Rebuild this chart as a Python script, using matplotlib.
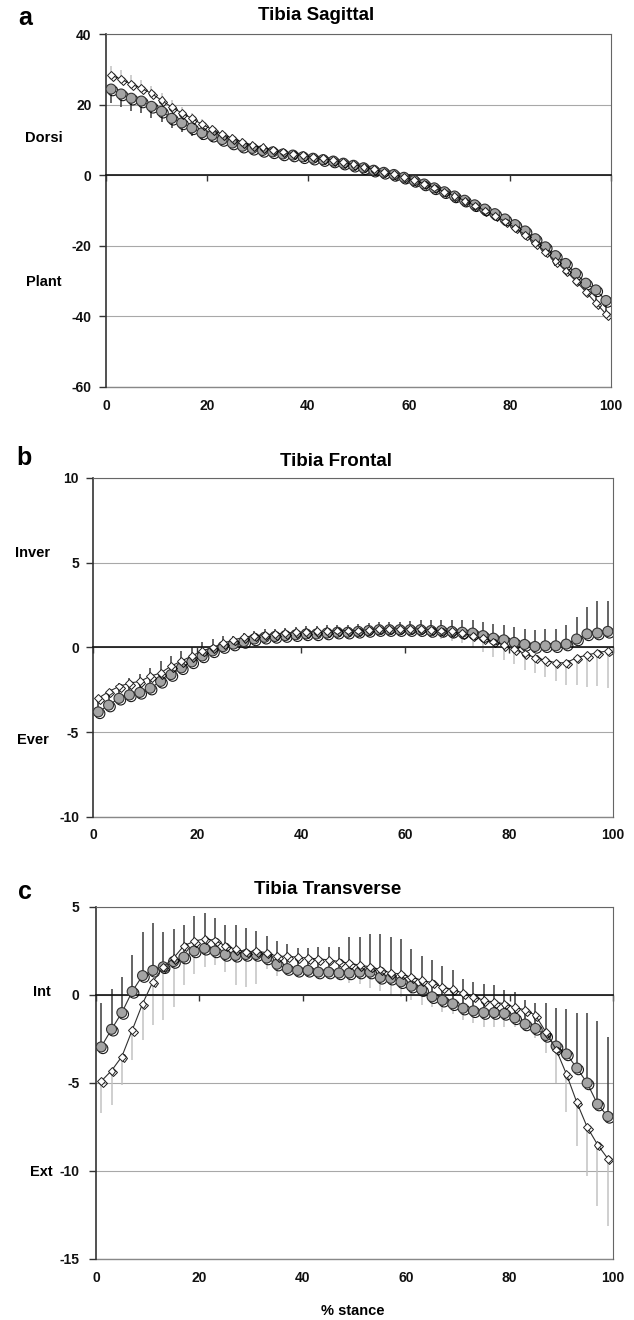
import numpy as np
import matplotlib
matplotlib.use('Agg')
import matplotlib.pyplot as plt
import matplotlib.patheffects as pe

plt.rcParams['font.family'] = ['Liberation Sans', 'DejaVu Sans']
plt.rcParams['font.weight'] = 'bold'
plt.rcParams['axes.unicode_minus'] = False

W, H = 634, 1320

# % stance, one sample every 2 %
stance = np.arange(1, 100, 2)

# --- a: tibia sagittal --- #
sag_circ = [24.4, 23.0, 21.8, 21.0, 19.5, 18.1, 16.1, 14.8, 13.4, 12.0,
            11.3, 10.1, 9.1, 8.2, 7.6, 7.0, 6.6, 6.0, 5.7, 5.2,
            4.8, 4.4, 4.0, 3.4, 2.8, 2.1, 1.4, 0.8, 0.2, -0.6,
            -1.5, -2.5, -3.6, -4.7, -5.9, -7.1, -8.4, -9.6, -10.9, -12.4,
            -14.0, -15.8, -18.0, -20.3, -22.8, -25.0, -27.8, -30.6, -32.5, -35.5]
sag_circ_sd = [4.0, 3.8, 3.6, 3.4, 3.2, 3.0, 2.8, 2.6, 2.3, 2.0,
               1.8, 1.6, 1.4, 1.3, 1.2, 1.1, 1.0, 1.0, 0.9, 0.9,
               0.9, 0.9, 0.9, 0.9, 0.9, 0.9, 0.9, 0.9, 0.9, 1.0,
               1.0, 1.0, 1.1, 1.1, 1.2, 1.3, 1.4, 1.5, 1.6, 1.8,
               2.0, 2.2, 2.4, 2.6, 2.8, 3.0, 3.2, 3.4, 3.6, 3.8]
sag_diam = [28.3, 27.2, 25.8, 24.6, 23.2, 21.2, 19.3, 17.6, 16.1, 14.4,
            13.0, 11.6, 10.5, 9.4, 8.5, 7.9, 7.2, 6.7, 6.1, 5.7,
            5.2, 4.8, 4.3, 3.7, 3.1, 2.4, 1.7, 1.0, 0.3, -0.5,
            -1.4, -2.4, -3.5, -4.7, -5.9, -7.2, -8.6, -10.0, -11.5, -13.1,
            -14.9, -16.9, -19.2, -21.7, -24.3, -27.0, -29.9, -33.0, -36.2, -39.3]
sag_diam_sd = [2.5, 2.6, 2.5, 2.3, 2.2, 2.1, 2.0, 1.8, 1.6, 1.5,
               1.3, 1.2, 1.1, 1.0, 1.0, 0.9, 0.9, 0.8, 0.8, 0.8,
               0.8, 0.8, 0.8, 0.8, 0.8, 0.8, 0.8, 0.8, 0.8, 0.8,
               0.8, 0.8, 0.8, 0.8, 0.8, 0.9, 0.9, 0.9, 1.0, 1.0,
               1.0, 1.1, 1.1, 1.2, 1.2, 1.3, 1.3, 1.4, 1.4, 1.5]

# --- b: tibia frontal --- #
fro_circ = [-3.8, -3.4, -3.0, -2.8, -2.65, -2.4, -2.0, -1.6, -1.2, -0.85,
            -0.5, -0.2, 0.05, 0.2, 0.35, 0.5, 0.6, 0.65, 0.7, 0.75,
            0.8, 0.8, 0.85, 0.9, 0.9, 0.95, 1.0, 1.05, 1.05, 1.05,
            1.05, 1.05, 1.0, 1.0, 0.95, 0.9, 0.85, 0.7, 0.55, 0.45,
            0.3, 0.18, 0.06, 0.1, 0.1, 0.2, 0.5, 0.8, 0.85, 0.95]
fro_circ_sd = [0.6, 0.7, 0.9, 1.0, 1.1, 1.2, 1.2, 1.1, 1.0, 0.9,
               0.8, 0.7, 0.6, 0.5, 0.5, 0.5, 0.5, 0.45, 0.45, 0.45,
               0.45, 0.45, 0.45, 0.45, 0.45, 0.45, 0.45, 0.45, 0.45, 0.45,
               0.5, 0.55, 0.6, 0.65, 0.7, 0.75, 0.8, 0.8, 0.85, 0.85,
               0.9, 0.9, 0.95, 1.0, 1.0, 1.1, 1.3, 1.6, 1.9, 1.8]
fro_diam = [-3.0, -2.6, -2.3, -2.1, -2.0, -1.7, -1.5, -1.1, -0.8, -0.5,
            -0.2, 0.0, 0.25, 0.45, 0.6, 0.7, 0.75, 0.8, 0.85, 0.9,
            0.9, 0.95, 0.95, 1.0, 1.0, 1.0, 1.05, 1.1, 1.1, 1.1,
            1.1, 1.1, 1.05, 1.0, 0.95, 0.85, 0.7, 0.55, 0.35, 0.15,
            -0.1, -0.35, -0.6, -0.75, -0.9, -0.9, -0.6, -0.45, -0.3, -0.2]
fro_diam_sd = [0.5, 0.5, 0.5, 0.5, 0.5, 0.5, 0.5, 0.5, 0.5, 0.5,
               0.5, 0.5, 0.5, 0.5, 0.45, 0.45, 0.45, 0.45, 0.45, 0.45,
               0.45, 0.45, 0.45, 0.45, 0.45, 0.45, 0.45, 0.45, 0.45, 0.45,
               0.45, 0.5, 0.5, 0.5, 0.55, 0.6, 0.7, 0.8, 0.9, 0.9,
               0.9, 1.0, 0.9, 1.0, 1.1, 1.3, 1.6, 1.9, 2.0, 2.2]

# --- c: tibia transverse --- #
tra_circ = [-2.95, -1.95, -1.0, 0.2, 1.1, 1.4, 1.6, 1.9, 2.15, 2.5,
            2.65, 2.5, 2.3, 2.25, 2.3, 2.3, 2.1, 1.75, 1.5, 1.4,
            1.4, 1.3, 1.3, 1.25, 1.25, 1.3, 1.3, 1.0, 0.95, 0.75,
            0.5, 0.3, -0.1, -0.3, -0.5, -0.75, -0.9, -1.0, -1.0, -1.05,
            -1.3, -1.65, -1.9, -2.3, -2.9, -3.35, -4.15, -5.0, -6.2, -6.9]
tra_circ_sd = [2.5, 2.3, 2.0, 2.1, 2.5, 2.7, 2.0, 1.85, 1.85, 2.0,
               2.0, 1.9, 1.7, 1.75, 1.5, 1.35, 1.25, 1.3, 1.4, 1.25,
               1.25, 1.4, 1.4, 1.5, 2.05, 2.0, 2.15, 2.45, 2.35, 2.45,
               2.1, 1.9, 2.1, 1.95, 1.9, 1.65, 1.65, 1.6, 1.55, 1.35,
               1.47, 1.35, 1.45, 1.85, 2.15, 2.55, 3.15, 4.0, 4.7, 4.5]
tra_diam = [-4.9, -4.3, -3.5, -2.0, -0.5, 0.75, 1.6, 2.1, 2.8, 3.05,
            3.2, 3.1, 2.8, 2.6, 2.45, 2.5, 2.4, 2.2, 2.2, 2.15,
            2.1, 2.05, 2.0, 1.9, 1.8, 1.7, 1.6, 1.45, 1.25, 1.2,
            1.0, 0.85, 0.7, 0.45, 0.32, 0.1, -0.1, -0.3, -0.4, -0.5,
            -0.7, -0.85, -1.15, -2.1, -3.1, -4.5, -6.1, -7.5, -8.5, -9.3]
tra_diam_sd = [1.8, 1.95, 1.6, 1.7, 2.05, 2.45, 3.0, 2.8, 2.25, 1.85,
               1.6, 1.4, 1.5, 2.05, 2.0, 1.9, 0.95, 1.1, 1.0, 1.0,
               1.0, 1.0, 1.0, 1.0, 1.1, 1.1, 1.2, 1.2, 1.3, 1.3,
               1.3, 1.4, 1.4, 1.4, 1.4, 1.5, 1.5, 1.5, 1.4, 1.3,
               1.1, 1.2, 1.3, 1.2, 1.9, 2.15, 2.5, 2.8, 3.5, 3.8]

xticks = [0, 20, 40, 60, 80, 100]

# markers get a dark drop shadow, like the original
shadow = [pe.SimpleLineShadow(offset=(1.2, -1.2), shadow_color='black', alpha=0.9),
          pe.Normal()]


def px_rect(l, r, t, b):
    return [l / W, 1 - b / H, (r - l) / W, (b - t) / H]


def panel(rect, ylim, ystep, circ, circ_sd, diam, diam_sd, circ_up, ypad, xpad):
    ax = fig.add_axes(rect)
    zeros = np.zeros(len(stance))
    if circ_up:
        cerr, derr = [zeros, circ_sd], [diam_sd, zeros]
    else:
        cerr, derr = [circ_sd, zeros], [zeros, diam_sd]
    ax.errorbar(stance, diam, yerr=derr, fmt='none', ecolor='#c2c2c2',
                elinewidth=1.1, capsize=0, zorder=2)
    ax.errorbar(stance, circ, yerr=cerr, fmt='none', ecolor='#3a3a3a',
                elinewidth=1.1, capsize=0, zorder=2)
    # connecting lines
    ax.plot(stance, circ, '-', color='#303030', lw=0.8, zorder=3)
    ax.plot(stance, diam, '-', color='#303030', lw=0.8, zorder=4)
    # markers
    ax.plot(stance, circ, 'o', ms=7.2, mfc='#a4a4a4', mec='#333333', mew=0.8,
            zorder=3.5, path_effects=shadow)
    ax.plot(stance, diam, 'D', ms=4, mfc='white', mec='#222222', mew=0.7,
            zorder=4.5, path_effects=shadow)

    ax.set_xlim(0, 100)
    ax.set_ylim(*ylim)
    ax.set_yticks(np.arange(ylim[0], ylim[1] + 0.1, ystep))
    ax.yaxis.grid(True, color='#a8a8a8', lw=0.8)
    ax.set_axisbelow(True)

    # x axis line sits on zero, labels at the bottom
    ax.spines['bottom'].set_position(('data', 0))
    ax.spines['bottom'].set_color('#111111')
    ax.spines['bottom'].set_linewidth(1.2)
    ax.spines['bottom'].set_zorder(2.5)
    ax.set_xticks(xticks)
    ax.tick_params(axis='x', direction='out', length=4, width=1.0,
                   color='#333333', labelbottom=False)
    ax.spines['left'].set_color('#333333')
    ax.spines['left'].set_linewidth(1.2)
    ax.spines['top'].set_color('#666666')
    ax.spines['right'].set_color('#666666')
    ax.tick_params(axis='y', direction='out', length=5, width=1.0,
                   color='#333333', labelsize=10, pad=ypad, labelcolor='#111111')

    sec = ax.secondary_xaxis('bottom')
    sec.set_xticks(xticks)
    sec.tick_params(length=0, pad=xpad, labelsize=10, labelcolor='#111111')
    sec.spines['bottom'].set_color('#888888')
    sec.spines['bottom'].set_linewidth(1.0)
    return ax


fig = plt.figure(figsize=(W / 100, H / 100), dpi=100)

panel(px_rect(106, 611, 34, 387), (-60, 40), 20,
      sag_circ, sag_circ_sd, sag_diam, sag_diam_sd, False, 5.5, 9)
panel(px_rect(93, 613, 478, 817), (-10, 10), 5,
      fro_circ, fro_circ_sd, fro_diam, fro_diam_sd, True, 5, 8)
panel(px_rect(96, 613, 907, 1259), (-15, 5), 5,
      tra_circ, tra_circ_sd, tra_diam, tra_diam_sd, True, 7, 9)


def ftext(x, y, s, **kw):
    fig.text(x / W, 1 - y / H, s, ha='center', va='center', **kw)


# panel letters and titles
ftext(25, 18, 'a', fontsize=18)
ftext(24, 458, 'b', fontsize=18)
ftext(25, 892, 'c', fontsize=18)
ftext(316, 16, 'Tibia Sagittal', fontsize=13.5)
ftext(336, 462, 'Tibia Frontal', fontsize=13.5)
ftext(328, 890, 'Tibia Transverse', fontsize=13.5)

# direction labels
ftext(44, 138, 'Dorsi', fontsize=10.5)
ftext(44, 282, 'Plant', fontsize=10.5)
ftext(33, 553, 'Inver', fontsize=10.5)
ftext(33, 740, 'Ever', fontsize=10.5)
ftext(42, 992, 'Int', fontsize=10.5)
ftext(41, 1172, 'Ext', fontsize=10.5)
ftext(353, 1311, '% stance', fontsize=10.5)

fig.savefig('out.png', dpi=100)
